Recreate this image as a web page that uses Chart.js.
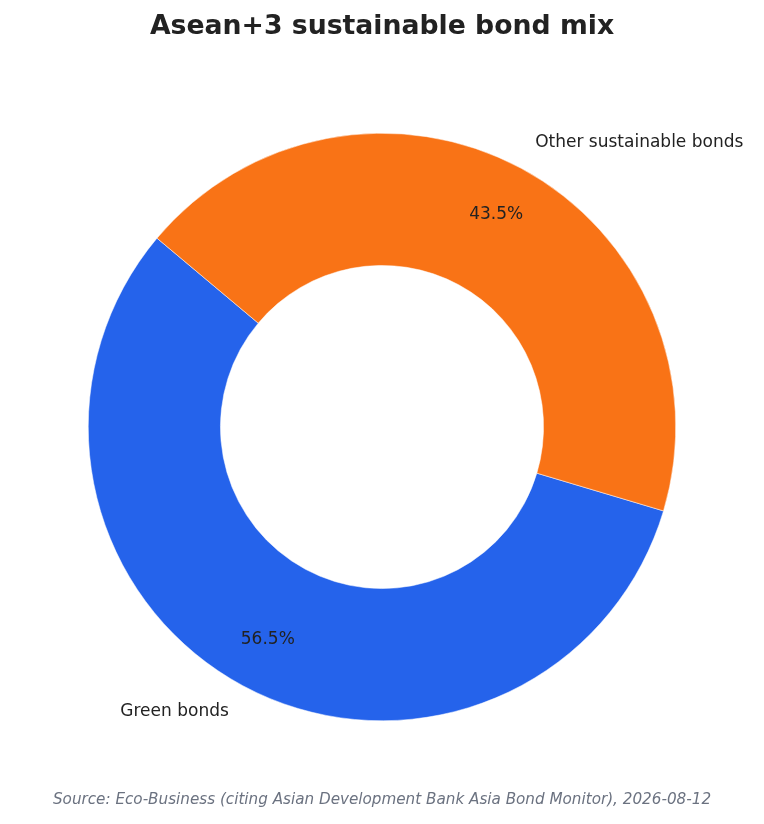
<!DOCTYPE html>
<html>
<head>
<meta charset="utf-8">
<script src="https://cdn.jsdelivr.net/npm/chart.js@4.4.1/dist/chart.umd.min.js"></script>
<style>
  html, body { margin: 0; padding: 0; background: #ffffff; }
  #wrap { width: 764px; height: 824px; }
</style>
</head>
<body>
<div id="wrap"><canvas id="chart" width="764" height="824"></canvas></div>
<script>
// data
var categories = ["Green bonds", "Other sustainable bonds"];
var shares = [56.5, 43.5];
var sliceColors = ["#2563EB", "#F97316"];

var titleText = "Asean+3 sustainable bond mix";
var sourceText = "Source: Eco-Business (citing Asian Development Bank Asia Bond Monitor), 2026-08-12";

// labels outside each slice and percentages inside, placed from the arc geometry
var sliceLabels = {
	id: 'sliceLabels',
	afterDatasetsDraw: function (chart) {
		var ctx = chart.ctx;
		var meta = chart.getDatasetMeta(0);
		ctx.save();
		meta.data.forEach(function (arc, i) {
			var mid = (arc.startAngle + arc.endAngle) / 2;
			var r = arc.outerRadius;
			var cx = arc.x, cy = arc.y;

			// category name
			var lx = cx + Math.cos(mid) * r * 1.1;
			var ly = cy + Math.sin(mid) * r * 1.1;
			ctx.fillStyle = '#222222';
			ctx.font = '17px "DejaVu Sans"';
			ctx.textBaseline = 'middle';
			ctx.textAlign = Math.cos(mid) >= 0 ? 'left' : 'right';
			ctx.fillText(categories[i], lx, ly);

			// percentage
			var px = cx + Math.cos(mid) * r * 0.82;
			var py = cy + Math.sin(mid) * r * 0.82;
			ctx.textAlign = 'center';
			ctx.fillText(shares[i].toFixed(1) + '%', px, py);
		});
		ctx.restore();
	}
};

var headerFooter = {
	id: 'headerFooter',
	afterDraw: function (chart) {
		var ctx = chart.ctx;
		ctx.save();
		ctx.fillStyle = '#222222';
		ctx.font = 'bold 26.7px "DejaVu Sans"';
		ctx.textAlign = 'center';
		ctx.textBaseline = 'middle';
		ctx.fillText(titleText, 382, 27);

		ctx.fillStyle = '#6B7280';
		ctx.font = 'italic 15.2px "DejaVu Sans"';
		ctx.fillText(sourceText, 382, 800);
		ctx.restore();
	}
};

new Chart(document.getElementById("chart"), {
	type: 'doughnut',
	data: {
		labels: categories,
		datasets: [{
			data: shares,
			backgroundColor: sliceColors,
			borderColor: '#ffffff',
			borderWidth: 0.5,
			hoverOffset: 0
		}]
	},
	options: {
		responsive: false,
		animation: false,
		rotation: 106.6,
		cutout: '55%',
		layout: {
			padding: { left: 88, right: 88, top: 133, bottom: 103 }
		},
		plugins: {
			legend: { display: false },
			tooltip: { enabled: false },
			title: { display: false }
		}
	},
	plugins: [sliceLabels, headerFooter]
});
</script>
</body>
</html>
